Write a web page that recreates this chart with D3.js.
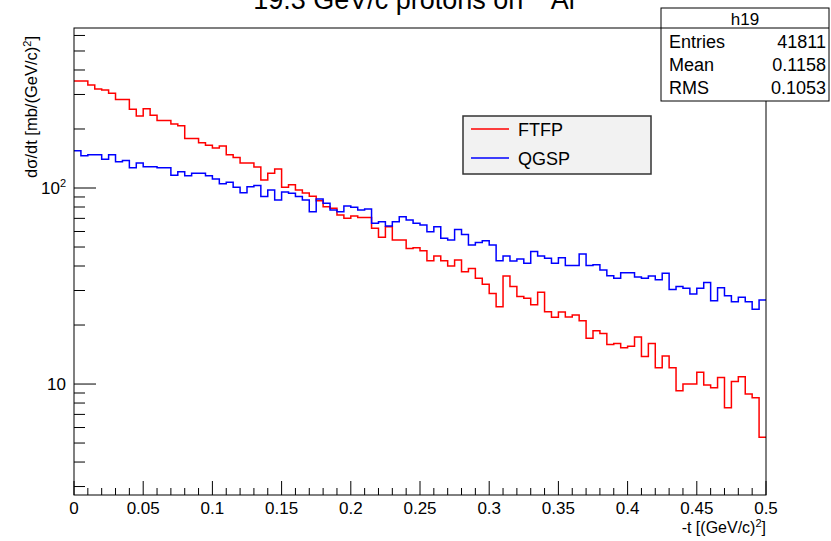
<!DOCTYPE html>
<html>
<head>
<meta charset="utf-8">
<script src="https://cdn.jsdelivr.net/npm/d3@7"></script>
<style>
  body { margin: 0; background: #fff; }
  svg { font-family: 'Liberation Sans', Arial, Helvetica, sans-serif; }
</style>
</head>
<body>
<div id="chart"></div>
<script>
// bin layout: 100 bins on 0 .. 0.5
const binLow = 0
const binHigh = 0.5
const nBins = 100

// dσ/dt per bin, FTFP (red)
const ftfp = [
  351, 351, 335, 320, 316, 304, 283, 283, 252, 233,
  254, 235, 221, 221, 212, 208, 179, 179, 170, 165,
  160, 164, 148, 143, 134, 134, 128, 110, 119, 125,
  101, 104, 97.7, 94.3, 90.7, 86.1, 80.3, 78.8, 72.8, 70.0,
  71.9, 70.8, 70.8, 62.3, 56.0, 63.5, 54.3, 54.3, 49.2, 49.6,
  47.9, 42.6, 45.0, 42.6, 40.0, 42.9, 37.4, 38.9, 34.6, 32.3,
  29.0, 24.8, 35.6, 31.4, 28.0, 27.4, 25.4, 29.4, 23.4, 21.9,
  23.3, 22.0, 22.5, 21.0, 17.1, 18.7, 18.1, 15.9, 16.1, 15.3,
  15.6, 17.4, 13.8, 16.1, 12.1, 13.9, 12.1, 9.25, 10.0, 10.0,
  11.5, 9.9, 9.58, 10.8, 7.57, 10.3, 10.9, 8.89, 8.51, 5.35
]

// dσ/dt per bin, QGSP (blue)
const qgsp = [
  155, 146, 148, 148, 140, 148, 136, 138, 127, 134,
  128.5, 128.5, 127, 127, 116, 121, 115.6, 119, 119, 115.6,
  111, 105, 107, 101, 94.6, 101.6, 103, 90.4, 97.7, 86.9,
  95.4, 93.9, 90.4, 86.9, 75.7, 87.9, 83.6, 77.3, 75.7, 81.0,
  79.7, 77.3, 78.2, 66.1, 67.3, 64.0, 67.3, 71.4, 68.7, 66.1,
  64.8, 59.8, 63.5, 55.4, 54.3, 61.5, 58.0, 51.2, 52.8, 53.8,
  51.2, 42.6, 45.0, 42.4, 43.4, 41.3, 47.5, 45.0, 43.8, 41.3,
  44.1, 40.2, 40.2, 46.1, 40.2, 40.6, 38.2, 35.7, 34.6, 37.0,
  37.0, 35.2, 34.6, 35.6, 34.0, 36.7, 30.4, 31.4, 30.8, 28.8,
  30.8, 33.0, 26.6, 31.0, 28.2, 26.3, 27.7, 26.3, 24.1, 26.8
]

const seriesNames = ['FTFP', 'QGSP']
const seriesColors = ['#ff0000', '#0000ff']

const xTickValues = [0, 0.05, 0.1, 0.15, 0.2, 0.25, 0.3, 0.35, 0.4, 0.45, 0.5]
const yMajorTicks = [10, 100]
const yMinorTicks = [3, 4, 5, 6, 7, 8, 9, 20, 30, 40, 50, 60, 70, 80, 90, 200, 300, 400, 500, 600]

const statsTitle = 'h19'
const statsRows = [['Entries', '41811'], ['Mean', '0.1158'], ['RMS', '0.1053']]

const W = 831
const H = 541
const frame = { left: 74, right: 766, top: 28, bottom: 495 }

const svg = d3.select('#chart').append('svg')
  .attr('width', W)
  .attr('height', H)

const x = d3.scaleLinear().domain([binLow, binHigh]).range([frame.left, frame.right])
const y = d3.scaleLog().domain([2.716, 655]).range([frame.bottom, frame.top])

const binWidth = (binHigh - binLow) / nBins

// histogram steps
const line = d3.line()
  .x(d => x(d[0]))
  .y(d => y(d[1]))
  .curve(d3.curveStepAfter)

;[ftfp, qgsp].forEach((vals, k) => {
  const pts = vals.map((v, i) => [binLow + i * binWidth, v])
  pts.push([binHigh, vals[vals.length - 1]])
  svg.append('path')
    .datum(pts)
    .attr('fill', 'none')
    .attr('stroke', seriesColors[k])
    .attr('stroke-width', 1.5)
    .attr('d', line)
})

// frame
svg.append('rect')
  .attr('x', frame.left)
  .attr('y', frame.top)
  .attr('width', frame.right - frame.left)
  .attr('height', frame.bottom - frame.top)
  .attr('fill', 'none')
  .attr('stroke', '#000')
  .attr('stroke-width', 1)

// x axis ticks
const xMinor = d3.range(0, 51).map(i => i * 0.01)
svg.append('g').selectAll('line')
  .data(xMinor)
  .join('line')
  .attr('x1', d => x(d)).attr('x2', d => x(d))
  .attr('y1', frame.bottom)
  .attr('y2', (d, i) => frame.bottom - (i % 5 === 0 ? 14 : 7))
  .attr('stroke', '#000')

svg.append('g').selectAll('text')
  .data(xTickValues)
  .join('text')
  .attr('x', d => x(d))
  .attr('y', 514)
  .attr('text-anchor', 'middle')
  .style('font-size', '17px')
  .text(d => d3.format('~g')(d))

svg.append('text')
  .attr('x', frame.right)
  .attr('y', 533)
  .attr('text-anchor', 'end')
  .style('font-size', '16px')
  .html('-t [(GeV/c)<tspan dy="-6" font-size="11px">2</tspan><tspan dy="6">]</tspan>')

// y axis ticks
svg.append('g').selectAll('line')
  .data(yMinorTicks)
  .join('line')
  .attr('x1', frame.left).attr('x2', frame.left + 11)
  .attr('y1', d => y(d)).attr('y2', d => y(d))
  .attr('stroke', '#000')

svg.append('g').selectAll('line')
  .data(yMajorTicks)
  .join('line')
  .attr('x1', frame.left).attr('x2', frame.left + 22)
  .attr('y1', d => y(d)).attr('y2', d => y(d))
  .attr('stroke', '#000')

svg.append('text')
  .attr('x', 66)
  .attr('y', y(10) + 6)
  .attr('text-anchor', 'end')
  .style('font-size', '17px')
  .text('10')

svg.append('text')
  .attr('x', 66)
  .attr('y', y(100) + 6)
  .attr('text-anchor', 'end')
  .style('font-size', '17px')
  .html('10<tspan dy="-7" font-size="11px">2</tspan>')

svg.append('text')
  .attr('transform', 'translate(37,36) rotate(-90)')
  .attr('text-anchor', 'end')
  .style('font-size', '16.5px')
  .html('dσ/dt [mb/(GeV/c)<tspan dy="-6" font-size="11px">2</tspan><tspan dy="6">]</tspan>')

// title (partly above the page)
svg.append('text')
  .attr('x', 414)
  .attr('y', 9)
  .attr('text-anchor', 'middle')
  .style('font-size', '27px')
  .html('19.3 GeV/c protons on <tspan dy="-10" font-size="18px">27</tspan><tspan dy="10">Al</tspan>')

// legend
const legend = svg.append('g').attr('transform', 'translate(463,116)')
legend.append('rect')
  .attr('width', 188)
  .attr('height', 58)
  .attr('fill', '#f2f2f2')
  .attr('stroke', '#333')
  .attr('stroke-width', 1.5)
seriesNames.forEach((name, i) => {
  const yy = 13 + i * 29
  legend.append('line')
    .attr('x1', 8).attr('x2', 46)
    .attr('y1', yy).attr('y2', yy)
    .attr('stroke', seriesColors[i])
    .attr('stroke-width', 1.5)
  legend.append('text')
    .attr('x', 55)
    .attr('y', yy + 7)
    .style('font-size', '18px')
    .text(name)
})

// stats box
const stats = svg.append('g').attr('transform', 'translate(661,8)')
stats.append('rect')
  .attr('width', 168)
  .attr('height', 93)
  .attr('fill', '#fff')
  .attr('stroke', '#000')
stats.append('line')
  .attr('x1', 0).attr('x2', 168)
  .attr('y1', 20).attr('y2', 20)
  .attr('stroke', '#000')
stats.append('text')
  .attr('x', 84)
  .attr('y', 17)
  .attr('text-anchor', 'middle')
  .style('font-size', '17px')
  .text(statsTitle)
statsRows.forEach((r, i) => {
  const yy = 40 + i * 23
  stats.append('text')
    .attr('x', 8)
    .attr('y', yy)
    .style('font-size', '18px')
    .text(r[0])
  stats.append('text')
    .attr('x', 165)
    .attr('y', yy)
    .attr('text-anchor', 'end')
    .style('font-size', '18px')
    .text(r[1])
})
</script>
</body>
</html>
